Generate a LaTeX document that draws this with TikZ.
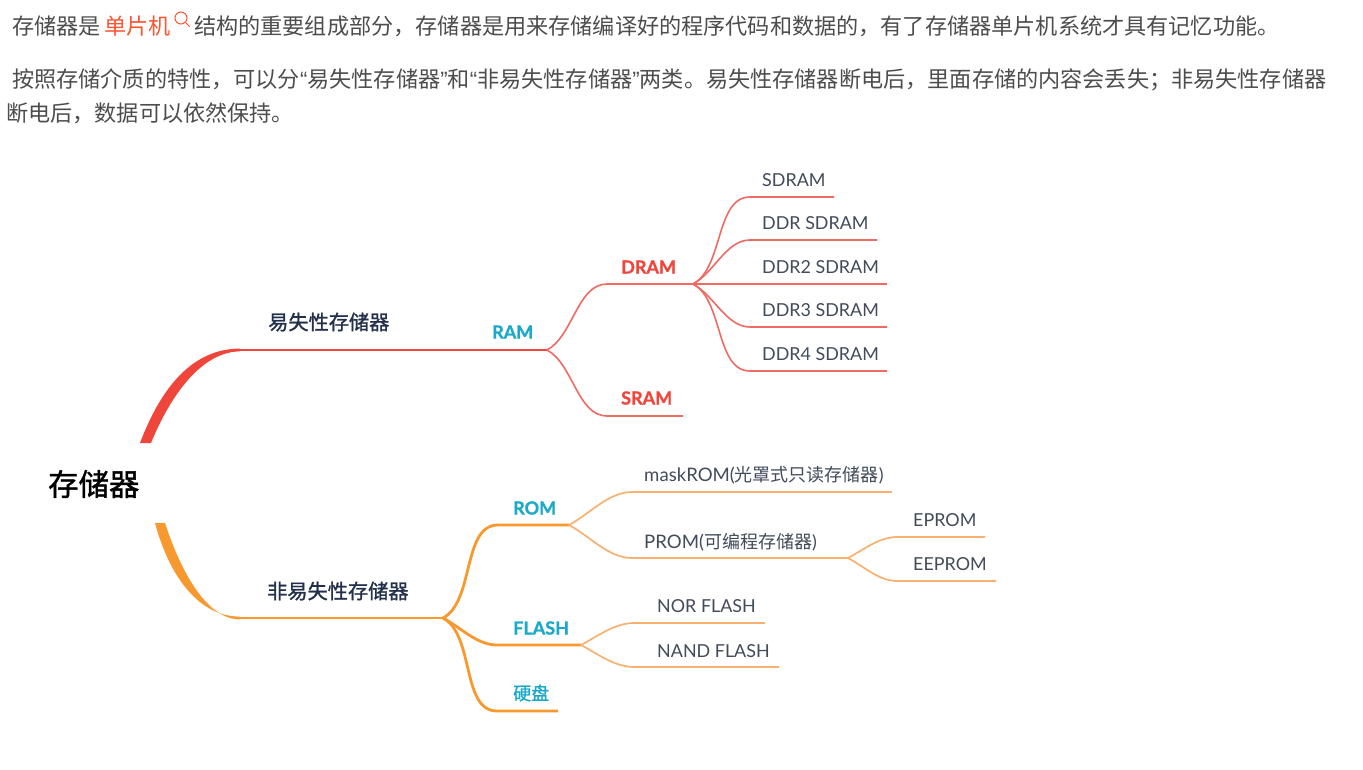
\documentclass[tikz,border=0pt]{standalone}
\usepackage{fontspec}
\newfontfamily\cjk{Noto Sans CJK SC}
\newfontfamily\cjkm{Noto Sans CJK SC}[FakeBold=1.2]
\newfontfamily\lat{Lato}
\newfontfamily\latb{Lato}[FakeBold=1.0]
\newfontfamily\qf{Liberation Sans}
\newcommand{\lqq}{{\qf\char"201C}}
\newcommand{\rqq}{{\qf\char"201D}}
\definecolor{redmain}{HTML}{F0453A}
\definecolor{redthin}{HTML}{EE6A62}
\definecolor{orgmain}{HTML}{F7992F}
\definecolor{orgthin}{HTML}{F9B070}
\definecolor{tealc}{HTML}{1BA9C9}
\definecolor{leaftxt}{HTML}{414B5A}
\definecolor{headtxt}{HTML}{22304A}
\definecolor{paratxt}{HTML}{4D4D4D}
\definecolor{linktxt}{HTML}{FC5531}
\tikzset{
  para/.style={anchor=west,inner sep=0pt,text=paratxt,font=\fontsize{22.15}{22.15}\selectfont\cjk},
  leaf/.style={anchor=west,inner sep=0pt,text=leaftxt,font=\fontsize{17.9}{18}\selectfont\lat},
  headt/.style={anchor=west,inner sep=0pt,text=headtxt,font=\fontsize{20.2}{20}\selectfont\cjkm},
  tealtxt/.style={anchor=west,inner sep=0pt,text=tealc,font=\fontsize{18}{18}\selectfont\latb\bfseries},
  redtxt/.style={anchor=west,inner sep=0pt,text=redmain,font=\fontsize{18}{18}\selectfont\latb\bfseries},
  rthick/.style={draw=redmain,line width=2.8pt},
  rthin/.style={draw=redthin,line width=1.6pt},
  othick/.style={draw=orgmain,line width=2.8pt},
  othin/.style={draw=orgthin,line width=1.7pt},
  fanup/.style={out=28,in=180,looseness=.85},
  fandn/.style={out=-28,in=180,looseness=.85},
}
\begin{document}
\begin{tikzpicture}[x=1pt,y=-1pt]
\useasboundingbox (0,0) rectangle (1363,769);
\fill[white] (0,0) rectangle (1363,769);
% paragraphs
\node[para] (p1a) at (12,26) {存储器是};
\node[para,text=linktxt] (p1b) at (104,26) {单片机};
\draw[linktxt,line width=1pt] (181,18) circle (6);
\draw[linktxt,line width=1pt,line cap=round] (185.3,22.3) -- (189.5,26.5);
\node[para] (p1c) at (194,26) {结构的重要组成部分，存储器是用来存储编译好的程序代码和数据的，有了存储器单片机系统才具有记忆功能。};
\node[para] (p2) at (12,80) {按照存储介质的特性，可以分\lqq 易失性存储器\rqq 和\lqq 非易失性存储器\rqq 两类。易失性存储器断电后，里面存储的内容会丢失；非易失性存储器};
\node[para] (p3) at (6,113) {断电后，数据可以依然保持。};
% root
\node[anchor=west,inner sep=0pt,text=black,font=\fontsize{30.4}{30}\selectfont\cjkm] (root) at (48,484) {存储器};
% trunks (tapered)
\fill[redmain] (140,443) .. controls (162,385) and (194,348.6) .. (240,348.6) -- (240,351.4) .. controls (206,351.4) and (174,387) .. (151,443) -- cycle;
\fill[orgmain] (155,523) .. controls (169,575) and (198,616.6) .. (240,616.6) -- (240,619.4) .. controls (208,619.4) and (182,575) .. (165,523) -- cycle;
% coordinates
\coordinate (vs) at (240,350); \coordinate (ram) at (547,350);
\coordinate (dram0) at (607,284); \coordinate (dram) at (693,284);
\coordinate (sram0) at (607,416); \coordinate (sram1) at (683,416);
\coordinate (a0) at (750,197); \coordinate (a1) at (834,197);
\coordinate (b0) at (750,240); \coordinate (b1) at (877,240);
\coordinate (c1) at (887,284);
\coordinate (d0) at (750,327); \coordinate (d1) at (887,327);
\coordinate (e0) at (750,371); \coordinate (e1) at (887,371);
\coordinate (nv) at (240,618); \coordinate (nvj) at (443,618);
\coordinate (rom0) at (498,525); \coordinate (rom) at (569,525);
\coordinate (mask0) at (632,492); \coordinate (mask1) at (892,492);
\coordinate (prom0) at (632,558); \coordinate (prom) at (848,558);
\coordinate (ep0) at (897,537); \coordinate (ep1) at (985,537);
\coordinate (eep0) at (897,581); \coordinate (eep1) at (996,581);
\coordinate (fl0) at (497,645); \coordinate (fl) at (581,645);
\coordinate (nor0) at (634,623); \coordinate (nor1) at (765,623);
\coordinate (nand0) at (634,667); \coordinate (nand1) at (779,667);
\coordinate (hd0) at (497,711); \coordinate (hd1) at (558,711);
% red tree
\draw[rthick] (vs) -- (ram);
\draw[rthin] (ram) to[fanup] (dram0) -- (dram);
\draw[rthin] (ram) to[fandn] (sram0) -- (sram1);
\draw[rthin] (dram) to[fanup] (a0) -- (a1);
\draw[rthin] (dram) to[fanup] (b0) -- (b1);
\draw[rthin] (dram) -- (c1);
\draw[rthin] (dram) to[fandn] (d0) -- (d1);
\draw[rthin] (dram) to[fandn] (e0) -- (e1);
% orange tree
\draw[othick] (nv) -- (nvj);
\draw[othick] (nvj) to[fanup] (rom0) -- (rom);
\draw[othick] (nvj) to[fandn] (fl0) -- (fl);
\draw[othick] (nvj) to[fandn] (hd0) -- (hd1);
\draw[othin] (rom) to[fanup] (mask0) -- (mask1);
\draw[othin] (rom) to[fandn] (prom0) -- (prom);
\draw[othin] (prom) to[fanup] (ep0) -- (ep1);
\draw[othin] (prom) to[fandn] (eep0) -- (eep1);
\draw[othin] (fl) to[fanup] (nor0) -- (nor1);
\draw[othin] (fl) to[fandn] (nand0) -- (nand1);
% labels
\node[headt] (lvs) at (268,322) {易失性存储器};
\node[headt] (lnv) at (267,591) {非易失性存储器};
\node[tealtxt] (lram) at (492,332) {RAM};
\node[redtxt] (ldram) at (621,267) {DRAM};
\node[redtxt] (lsram) at (621,398) {SRAM};
\node[leaf] (la) at (762,180) {SDRAM};
\node[leaf] (lb) at (762,223) {DDR SDRAM};
\node[leaf] (lc) at (762,267) {DDR2 SDRAM};
\node[leaf] (ld) at (762,310) {DDR3 SDRAM};
\node[leaf] (le) at (762,354) {DDR4 SDRAM};
\node[tealtxt] (lrom) at (513,508) {ROM};
\node[tealtxt] (lfl) at (513,628) {FLASH};
\node[tealtxt,font=\fontsize{18}{18}\selectfont\cjkm] (lhd) at (513,693) {硬盘};
\node[leaf] (lmask) at (644,475) {{\fontsize{18.6}{18}\selectfont maskROM(}{\fontsize{18}{18}\selectfont\cjk 光罩式只读存储器})};
\node[leaf] (lprom) at (644,542) {{\fontsize{18.6}{18}\selectfont PROM(}{\fontsize{18}{18}\selectfont\cjk 可编程存储器})};
\node[leaf] (lep) at (913,520) {EPROM};
\node[leaf] (leep) at (913,564) {EEPROM};
\node[leaf] (lnor) at (657,606) {NOR FLASH};
\node[leaf] (lnand) at (657,651) {NAND FLASH};
\end{tikzpicture}
\end{document}
